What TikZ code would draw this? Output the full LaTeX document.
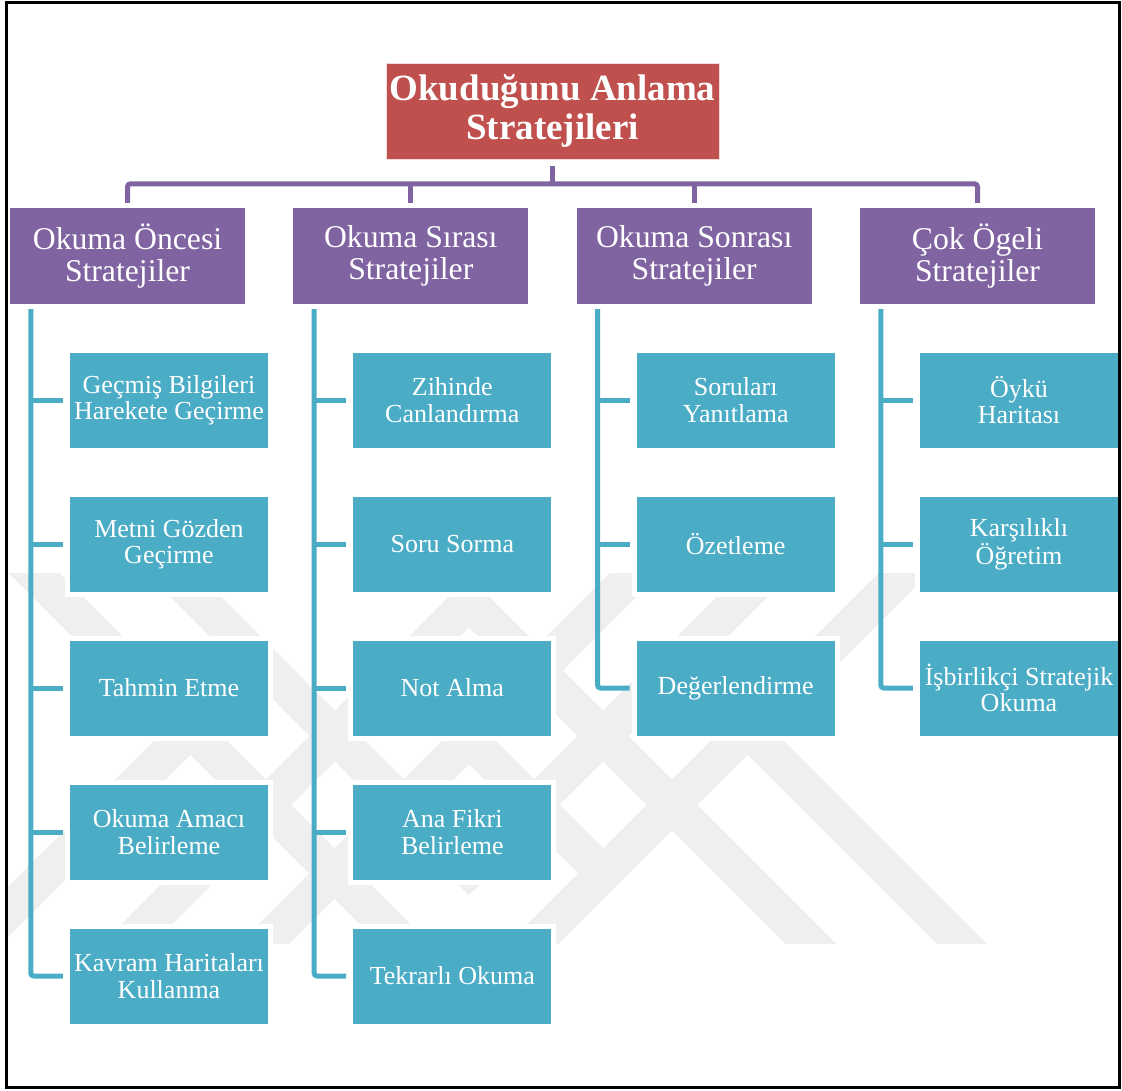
\documentclass[tikz,border=0pt]{standalone}
\usepackage{fontspec}
\setmainfont{Liberation Serif}
\usetikzlibrary{calc}
\definecolor{rootred}{HTML}{C0504D}
\definecolor{catpurple}{HTML}{8064A2}
\definecolor{leafteal}{HTML}{4BACC6}
\definecolor{wmgray}{HTML}{EFEFEF}
\tikzset{
  rootbox/.style={fill=rootred, draw=white!80!rootred, line width=1, minimum width=333, minimum height=96, inner sep=0, text=white, align=center, font=\fontsize{37}{39}\selectfont\bfseries},
  catbox/.style={fill=catpurple, minimum width=235, minimum height=96, inner sep=0, text=white, align=center, font=\fontsize{31.7}{32}\selectfont},
  leafbox/.style={fill=leafteal, preaction={draw=white, line width=10}, minimum width=198, minimum height=95, inner sep=0, text=white, align=center, font=\fontsize{26}{26.5}\selectfont},
  bus/.style={draw=catpurple, line width=5},
  spine/.style={draw=leafteal, line width=5, rounded corners=3},
  wmband/.style={draw=wmgray, line width=36},
}
\begin{document}
\begin{tikzpicture}[x=1pt,y=-1pt]
\useasboundingbox (0,0) rectangle (1122,1090);
% faint watermark
\begin{scope}
  \clip (8,573) rectangle (1118,943);
  \draw[wmband] (14,553) -- (424,963);
  \draw[wmband] (924,553) -- (514,963);
  \draw[wmband, line join=miter] (108,963) -- (469,602) -- (830,963);
  \draw[wmband, line join=miter] (152,553) -- (469,870) -- (786,553);
  \draw[wmband] (750,732) -- (981,963);
  \draw[wmband] (188,732) -- (-43,963);
  \draw[wmband] (655,553) -- (245,963);
  \draw[wmband] (392,662) -- (610,880);
\end{scope}
% root
\node[rootbox] (root) at (552.5,111) {Okuduğunu Anlama\\Stratejileri};
% categories
\node[catbox] (c1) at (127.5,256) {Okuma Öncesi\\Stratejiler};
\node[catbox] (c2) at (410.8,256) {Okuma Sırası\\Stratejiler};
\node[catbox] (c3) at (694.2,256) {Okuma Sonrası\\Stratejiler};
\node[catbox] (c4) at (977.5,256) {Çok Ögeli\\Stratejiler};
% leaves column 1
\node[leafbox] (l11) at (169,400) {Geçmiş Bilgileri\\Harekete Geçirme};
\node[leafbox] (l12) at (169,544) {Metni Gözden\\Geçirme};
\node[leafbox] (l13) at (169,688) {Tahmin Etme};
\node[leafbox] (l14) at (169,832) {Okuma Amacı\\Belirleme};
\node[leafbox] (l15) at (169,976) {Kavram Haritaları\\Kullanma};
% leaves column 2
\node[leafbox] (l21) at (452.3,400) {Zihinde\\Canlandırma};
\node[leafbox] (l22) at (452.3,544) {Soru Sorma};
\node[leafbox] (l23) at (452.3,688) {Not Alma};
\node[leafbox] (l24) at (452.3,832) {Ana Fikri\\Belirleme};
\node[leafbox] (l25) at (452.3,976) {Tekrarlı Okuma};
% leaves column 3
\node[leafbox] (l31) at (735.7,400) {Soruları\\Yanıtlama};
\node[leafbox] (l32) at (735.7,544) {Özetleme};
\node[leafbox] (l33) at (735.7,688) {Değerlendirme};
% leaves column 4
\node[leafbox] (l41) at (1019,400) {Öykü\\Haritası};
\node[leafbox] (l42) at (1019,544) {Karşılıklı\\Öğretim};
\node[leafbox] (l43) at (1019,688) {İşbirlikçi Stratejik\\Okuma};
% purple bus
\draw[bus] ($(root.south)+(0,6)$) -- ($(root.south)+(0,25)$);
\draw[bus, rounded corners=3] ($(c1.north)+(0,-5)$) -- ($(c1.north)+(0,-24)$) -- ($(c4.north)+(0,-24)$) -- ($(c4.north)+(0,-5)$);
\draw[bus] ($(c2.north)+(0,-5)$) -- ($(c2.north)+(0,-24)$);
\draw[bus] ($(c3.north)+(0,-5)$) -- ($(c3.north)+(0,-24)$);
% teal spines
\coordinate (s1) at ($(c1.south west)+(21,5)$);
\coordinate (s2) at ($(c2.south west)+(21,5)$);
\coordinate (s3) at ($(c3.south west)+(21,5)$);
\coordinate (s4) at ($(c4.south west)+(21,5)$);
\draw[spine] (s1) |- ($(l15.west)+(-7,0)$);
\foreach \n in {l11,l12,l13,l14} \draw[spine] (s1 |- \n.west) -- ($(\n.west)+(-7,0)$);
\draw[spine] (s2) |- ($(l25.west)+(-7,0)$);
\foreach \n in {l21,l22,l23,l24} \draw[spine] (s2 |- \n.west) -- ($(\n.west)+(-7,0)$);
\draw[spine] (s3) |- ($(l33.west)+(-7,0)$);
\foreach \n in {l31,l32} \draw[spine] (s3 |- \n.west) -- ($(\n.west)+(-7,0)$);
\draw[spine] (s4) |- ($(l43.west)+(-7,0)$);
\foreach \n in {l41,l42} \draw[spine] (s4 |- \n.west) -- ($(\n.west)+(-7,0)$);
% frame
\draw[line width=2.5] (6.5,2.5) rectangle (1119.5,1087.5);
\end{tikzpicture}
\end{document}
